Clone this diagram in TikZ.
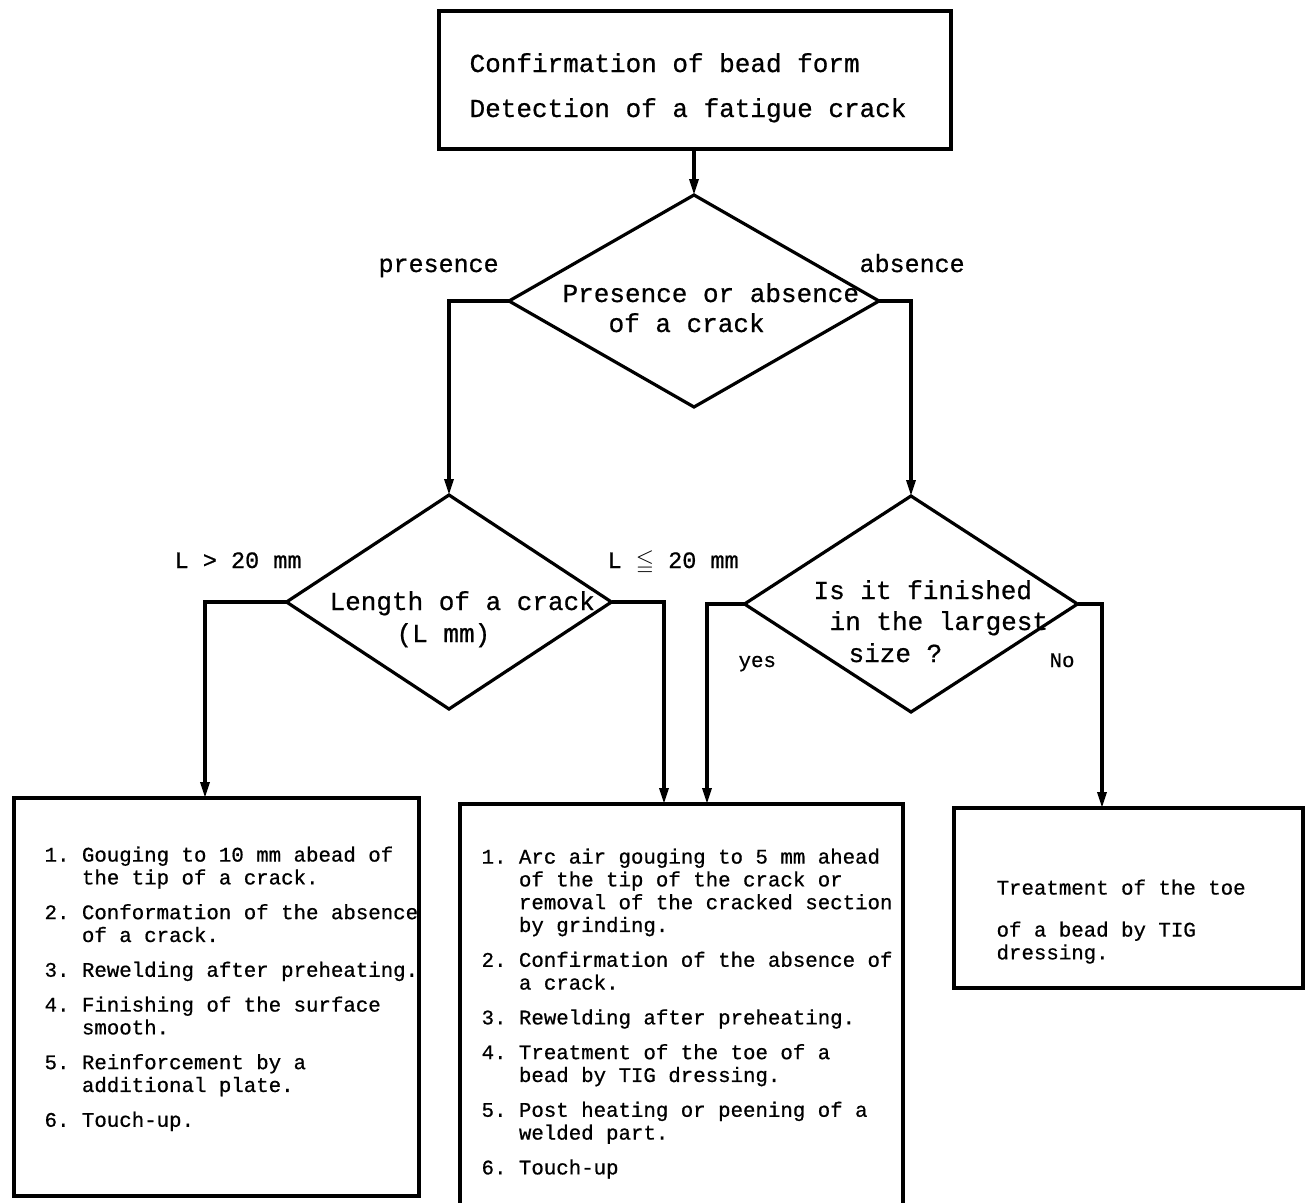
\documentclass[tikz,border=0pt]{standalone}
\usepackage{fontspec}
\usepackage{amssymb}
\setmonofont{Liberation Mono}
\newfontfamily\twfont[FakeBold=0.7]{Liberation Mono}
\usetikzlibrary{arrows.meta,shapes.geometric}
\newcommand\bigtw{\twfont\fontsize{26}{30}\selectfont}
\newcommand\labtw{\twfont\fontsize{25}{30}\selectfont}
\newcommand\condtw{\twfont\fontsize{23.5}{28}\selectfont}
\newcommand\smalltw{\twfont\fontsize{20.75}{22.8}\selectfont}
\begin{document}
\begin{tikzpicture}[x=1pt,y=-1pt,
  line width=3.2pt, line join=miter,
  frame/.style={draw, rectangle, inner sep=0pt, outer sep=0pt, anchor=north west},
  decision/.style={draw, diamond, inner sep=0pt, outer sep=0pt},
  bigtext/.style={inner sep=0pt, anchor=base west, font=\bigtw},
  labeltext/.style={inner sep=0pt, anchor=base west, font=\labtw},
  condtext/.style={inner sep=0pt, anchor=base west, font=\condtw},
  smalltext/.style={inner sep=0pt, anchor=base west, font=\smalltw},
  listtext/.style={inner sep=0pt, anchor=north west, align=left, font=\smalltw},
  conn/.style={-{Triangle[length=16pt,width=9pt]}},
]
\useasboundingbox (0,0) rectangle (1306,1202);

% boxes
\node[frame, minimum width=512pt, minimum height=138pt] (top) at (439,11) {};
\node[frame, minimum width=405pt, minimum height=398pt] (b1) at (14,798) {};
\node[frame, minimum width=443pt, minimum height=405pt] (b2) at (460,804) {};
\node[frame, minimum width=349pt, minimum height=180pt] (b3) at (954,808) {};

% decisions
\node[decision, minimum width=370pt, minimum height=212pt] (d1) at (694,301) {};
\node[decision, minimum width=325pt, minimum height=214pt] (d2) at (449,602) {};
\node[decision, minimum width=333pt, minimum height=216pt] (d3) at (911,604) {};

% texts
\node[bigtext] (top1) at (468,72) {Confirmation of bead form};
\node[bigtext] (top2) at (468,117) {Detection of a fatigue crack};

\node[bigtext] (d1a) at (561,302) {Presence or absence};
\node[bigtext] (d1b) at (607,332) {of a crack};

\node[bigtext] (d2a) at (328,610) {Length of a crack};
\node[bigtext] (d2b) at (395,642) {(L mm)};

\node[bigtext] (d3a) at (812,599) {Is it finished};
\node[bigtext] (d3b) at (828,630) {in the largest};
\node[bigtext] (d3c) at (847,662) {size ?};

\node[labeltext] (lpres) at (377,272) {presence};
\node[labeltext] (labs) at (858,272) {absence};
\node[condtext] (lgt) at (173,568) {L > 20 mm};
\node[condtext] (lle) at (606,568) {L \(\leqq\) 20 mm};
\node[smalltext] (lyes) at (737,667) {yes};
\node[smalltext] (lno) at (1048,667) {No};

\node[listtext] (t1) at (43,844) {%
\strut 1.~Gouging to 10 mm abead of\\
\strut\phantom{1.~}the tip of a crack.\\[12pt]
\strut 2.~Conformation of the absence\\
\strut\phantom{2.~}of a crack.\\[12pt]
\strut 3.~Rewelding after preheating.\\[12pt]
\strut 4.~Finishing of the surface\\
\strut\phantom{4.~}smooth.\\[12pt]
\strut 5.~Reinforcement by a\\
\strut\phantom{5.~}additional plate.\\[12pt]
\strut 6.~Touch-up.};

\node[listtext] (t2) at (480,846) {%
\strut 1.~Arc air gouging to 5 mm ahead\\
\strut\phantom{1.~}of the tip of the crack or\\
\strut\phantom{1.~}removal of the cracked section\\
\strut\phantom{1.~}by grinding.\\[12pt]
\strut 2.~Confirmation of the absence of\\
\strut\phantom{2.~}a crack.\\[12pt]
\strut 3.~Rewelding after preheating.\\[12pt]
\strut 4.~Treatment of the toe of a\\
\strut\phantom{4.~}bead by TIG dressing.\\[12pt]
\strut 5.~Post heating or peening of a\\
\strut\phantom{5.~}welded part.\\[12pt]
\strut 6.~Touch-up};

\node[listtext] (t3) at (995,877) {%
\strut Treatment of the toe\\[19.2pt]
\strut of a bead by TIG\\
\strut dressing.};

% connectors
\draw[conn] (d1.north |- top.south) -- (d1.north);
\draw[conn] (d1.west) -| (d2.north);
\draw[conn] (d1.east) -| (d3.north);
\draw[conn] (d2.west) -| ([xshift=-11.5pt]b1.north);
\draw[conn] (d2.east) -| ([xshift=-17.5pt]b2.north);
\draw[conn] (d3.west) -| ([xshift=25.5pt]b2.north);
\draw[conn] (d3.east) -| ([xshift=-26.5pt]b3.north);
\end{tikzpicture}
\end{document}
